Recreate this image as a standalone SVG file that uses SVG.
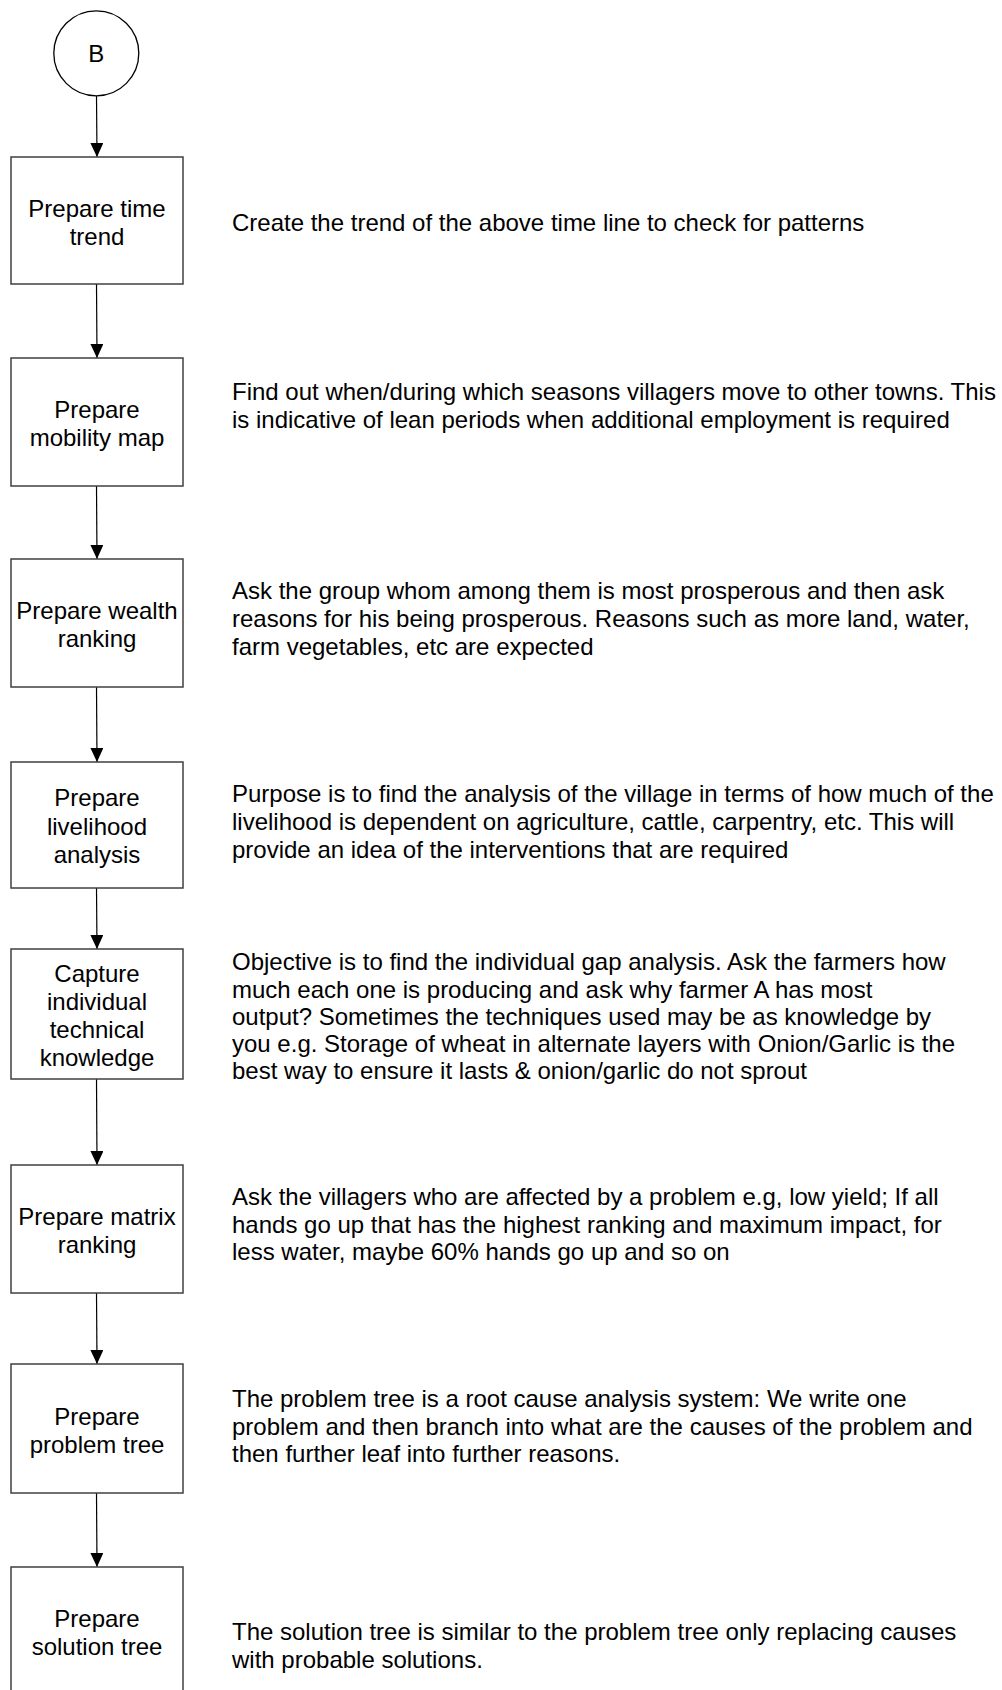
<svg xmlns="http://www.w3.org/2000/svg" width="1002" height="1690" viewBox="0 0 1002 1690">
<style>
text{font-family:"Liberation Sans",Arial,sans-serif;font-size:24px;fill:#000}
.lbl{text-anchor:middle}
.box{fill:#fff;stroke:#404040;stroke-width:1.5}
.conn{stroke:#000;stroke-width:1.2;fill:none}
</style>
<defs>
<marker id="arr" viewBox="0 0 14 13" refX="14" refY="6.5" markerWidth="14" markerHeight="13" markerUnits="userSpaceOnUse" orient="auto">
<path d="M0,0 L14,6.5 L0,13 z" fill="#000"/>
</marker>
</defs>
<rect width="1002" height="1690" fill="#fff"/>
<g id="connectors">
<line class="conn" x1="96.5" y1="96" x2="97" y2="157" marker-end="url(#arr)"/>
<line class="conn" x1="96.5" y1="284" x2="97" y2="358" marker-end="url(#arr)"/>
<line class="conn" x1="96.5" y1="486" x2="97" y2="559" marker-end="url(#arr)"/>
<line class="conn" x1="96.5" y1="687" x2="97" y2="762" marker-end="url(#arr)"/>
<line class="conn" x1="96.5" y1="888" x2="97" y2="949" marker-end="url(#arr)"/>
<line class="conn" x1="96.5" y1="1079" x2="97" y2="1165" marker-end="url(#arr)"/>
<line class="conn" x1="96.5" y1="1293" x2="97" y2="1364" marker-end="url(#arr)"/>
<line class="conn" x1="96.5" y1="1493" x2="97" y2="1567" marker-end="url(#arr)"/>
</g>
<g id="nodeB">
<circle cx="96.3" cy="53.3" r="42.5" fill="#fff" stroke="#000" stroke-width="1.3"/>
<text class="lbl" x="96.3" y="62">B</text>
</g>
<g id="n1">
<rect class="box" x="11" y="157" width="172" height="127"/>
<text class="lbl" x="97" y="217">Prepare time</text>
<text class="lbl" x="97" y="245">trend</text>
<text x="232" y="231">Create the trend of the above time line to check for patterns</text>
</g>
<g id="n2">
<rect class="box" x="11" y="358" width="172" height="128"/>
<text class="lbl" x="97" y="418">Prepare</text>
<text class="lbl" x="97" y="446">mobility map</text>
<text x="232" y="400">Find out when/during which seasons villagers move to other towns. This</text>
<text x="232" y="428">is indicative of lean periods when additional employment is required</text>
</g>
<g id="n3">
<rect class="box" x="11" y="559" width="172" height="128"/>
<text class="lbl" x="97" y="619">Prepare wealth</text>
<text class="lbl" x="97" y="647">ranking</text>
<text x="232" y="599">Ask the group whom among them is most prosperous and then ask</text>
<text x="232" y="627">reasons for his being prosperous. Reasons such as more land, water,</text>
<text x="232" y="655">farm vegetables, etc are expected</text>
</g>
<g id="n4">
<rect class="box" x="11" y="762" width="172" height="126"/>
<text class="lbl" x="97" y="806">Prepare</text>
<text class="lbl" x="97" y="835">livelihood</text>
<text class="lbl" x="97" y="863">analysis</text>
<text x="232" y="802">Purpose is to find the analysis of the village in terms of how much of the</text>
<text x="232" y="830">livelihood is dependent on agriculture, cattle, carpentry, etc. This will</text>
<text x="232" y="858">provide an idea of the interventions that are required</text>
</g>
<g id="n5">
<rect class="box" x="11" y="949" width="172" height="130"/>
<text class="lbl" x="97" y="982">Capture</text>
<text class="lbl" x="97" y="1010">individual</text>
<text class="lbl" x="97" y="1038">technical</text>
<text class="lbl" x="97" y="1066">knowledge</text>
<text x="232" y="970">Objective is to find the individual gap analysis. Ask the farmers how</text>
<text x="232" y="998">much each one is producing and ask why farmer A has most</text>
<text x="232" y="1025">output? Sometimes the techniques used may be as knowledge by</text>
<text x="232" y="1052">you e.g. Storage of wheat in alternate layers with Onion/Garlic is the</text>
<text x="232" y="1079">best way to ensure it lasts &amp; onion/garlic do not sprout</text>
</g>
<g id="n6">
<rect class="box" x="11" y="1165" width="172" height="128"/>
<text class="lbl" x="97" y="1225">Prepare matrix</text>
<text class="lbl" x="97" y="1253">ranking</text>
<text x="232" y="1205">Ask the villagers who are affected by a problem e.g, low yield; If all</text>
<text x="232" y="1233">hands go up that has the highest ranking and maximum impact, for</text>
<text x="232" y="1260">less water, maybe 60% hands go up and so on</text>
</g>
<g id="n7">
<rect class="box" x="11" y="1364" width="172" height="129"/>
<text class="lbl" x="97" y="1425">Prepare</text>
<text class="lbl" x="97" y="1453">problem tree</text>
<text x="232" y="1407">The problem tree is a root cause analysis system: We write one</text>
<text x="232" y="1435">problem and then branch into what are the causes of the problem and</text>
<text x="232" y="1462">then further leaf into further reasons.</text>
</g>
<g id="n8">
<rect class="box" x="11" y="1567" width="172" height="130"/>
<text class="lbl" x="97" y="1627">Prepare</text>
<text class="lbl" x="97" y="1655">solution tree</text>
<text x="232" y="1640">The solution tree is similar to the problem tree only replacing causes</text>
<text x="232" y="1668">with probable solutions.</text>
</g>
</svg>
